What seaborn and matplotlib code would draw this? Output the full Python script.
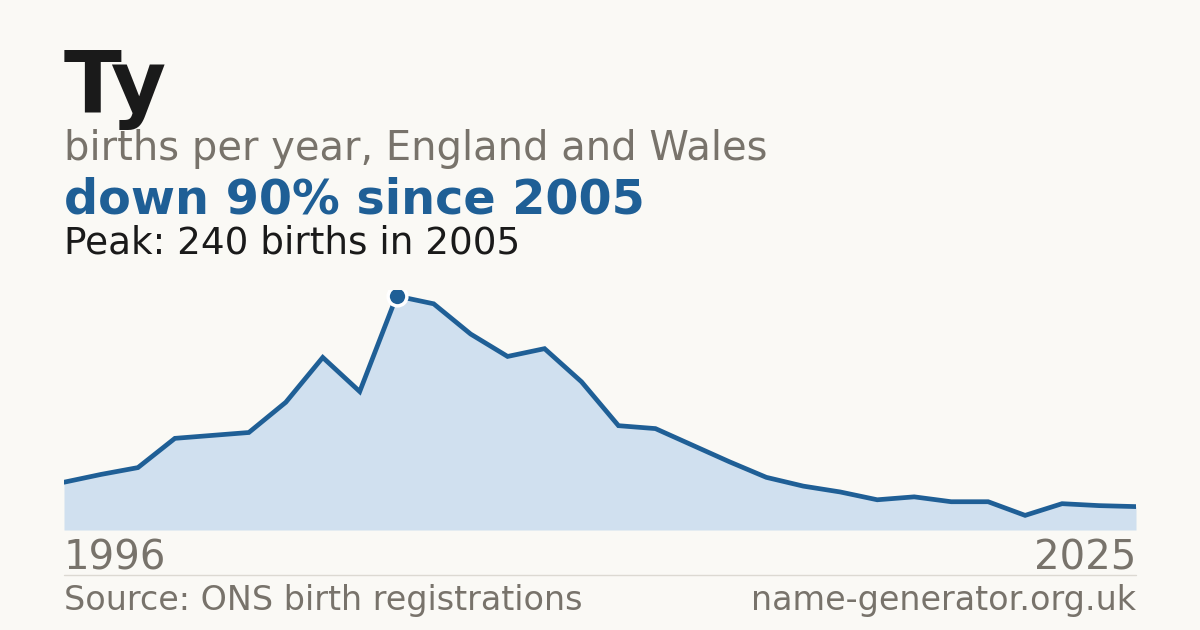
import matplotlib
matplotlib.use("Agg")
import matplotlib.pyplot as plt
import seaborn as sns
import pandas as pd

years = list(range(1996, 2026))
births = [49, 57, 64, 94, 97, 100, 131, 177, 142, 240,
          232, 201, 178, 186, 152, 107, 104, 87, 70, 54,
          45, 39, 31, 34, 29, 29, 15, 27, 25, 24]
name = "Ty"
subtitle = "births per year, England and Wales"
headline = "down 90% since 2005"
peak_text = "Peak: 240 births in 2005"
source = "Source: ONS birth registrations"
site = "name-generator.org.uk"
peak_year = 2005
peak_value = 240

BG = "#faf9f5"
BLUE = "#1f5f96"
FILL = "#d0e0ef"
GRAY = "#78736b"
DARK = "#1a1a1a"

sns.set_theme(style="white")
plt.rcParams['font.family'] = ['DejaVu Sans']

df = pd.DataFrame({"year": years, "births": births})

fig = plt.figure(figsize=(12, 6.3), dpi=100, facecolor=BG)
ax = fig.add_axes([64/1200, 1-530/630, 1072/1200, 240/630])
ax.set_facecolor(BG)

ax.fill_between(df["year"], 0, df["births"], color=FILL, lw=0, zorder=1)
sns.lineplot(data=df, x="year", y="births", ax=ax, color=BLUE, lw=3.4,
             zorder=2, solid_joinstyle="miter")
ax.plot([peak_year], [peak_value], marker="o", ms=13.5, mfc=BLUE, mec="white",
        mew=2.5, zorder=3, ls="none")

ax.set_xlim(1996, 2025)
ax.set_ylim(0, 240/234*240)
ax.axis("off")

fig.text(64/1200, 1-112/630, name, fontsize=61, fontweight="bold", color=DARK,
         ha="left", va="baseline")
fig.text(64/1200, 1-160/630, subtitle, fontsize=28.8, color=GRAY,
         ha="left", va="baseline")
fig.text(64/1200, 1-214/630, headline, fontsize=34.4, fontweight="bold", color=BLUE,
         ha="left", va="baseline")
fig.text(64/1200, 1-254/630, peak_text, fontsize=26.9, color=DARK,
         ha="left", va="baseline")

fig.text(64/1200, 1-570/630, str(years[0]), fontsize=29, color=GRAY,
         ha="left", va="baseline")
fig.text(1136/1200, 1-570/630, str(years[-1]), fontsize=29, color=GRAY,
         ha="right", va="baseline")

fig.add_artist(plt.Line2D([64/1200, 1136/1200], [1-574.5/630, 1-574.5/630],
                          color="#dcd9d2", lw=1))

fig.text(64/1200, 1-610/630, source, fontsize=24, color=GRAY,
         ha="left", va="baseline")
fig.text(1136/1200, 1-610/630, site, fontsize=24, color=GRAY,
         ha="right", va="baseline")

fig.savefig("out.png", dpi=100, facecolor=BG)
